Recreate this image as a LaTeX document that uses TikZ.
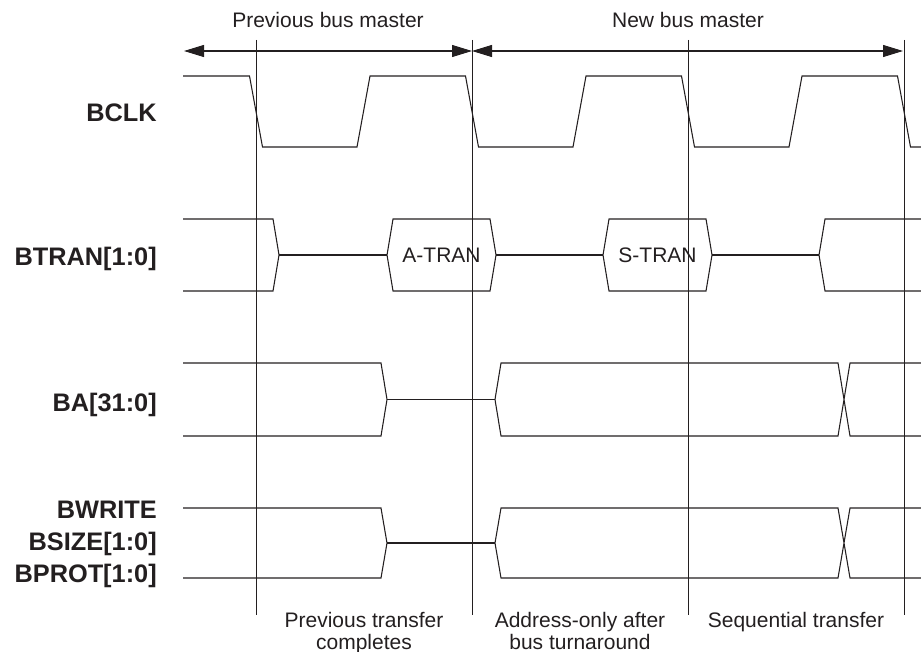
\documentclass[tikz,border=0pt]{standalone}
\usepackage{fontspec}
\setmainfont{Liberation Sans}
\usetikzlibrary{arrows.meta}
\definecolor{ink}{RGB}{35,31,32}
\tikzset{
  sig/.style={draw=ink, line width=0.8pt, line join=miter},
  guide/.style={draw=ink, line width=0.75pt},
  span/.style={draw=ink, line width=0.8pt, {Triangle[length=15pt,width=9pt]}-{Triangle[length=15pt,width=9pt]}},
  lbl/.style={anchor=base east, inner sep=0pt, text=ink, font=\fontsize{19}{24}\selectfont\bfseries},
  txt/.style={anchor=base, inner sep=0pt, text=ink, font=\fontsize{15.75}{16.5}\selectfont}
}
\begin{document}
\begin{tikzpicture}[x=0.75pt,y=-0.75pt]
\useasboundingbox (0,0) rectangle (921,652);

% guide lines
\foreach \x/\n in {256/g1,472/g2,688/g3,904/g4}{
  \coordinate (\n t) at (\x,40);
  \coordinate (\n b) at (\x,615);
  \draw[guide] (\n t) -- (\n b);
}

% bus master spans
\coordinate (s0) at (184,51);
\coordinate (s1) at (472,51);
\coordinate (s2) at (903,51);
\draw[span] (s0) -- (s1);
\draw[span] (s1) -- (s2);
\node[txt] (pbm) at (328,27.5) {Previous bus master};
\node[txt] (nbm) at (688,27.5) {New bus master};

% labels
\node[lbl] (lclk) at (157,121.5) {BCLK};
\node[lbl] (ltran) at (157,266) {BTRAN[1:0]};
\node[lbl] (lba) at (157,411) {BA[31:0]};
\node[lbl] (lw) at (157,518) {BWRITE};
\node[lbl] (ls) at (157,550) {BSIZE[1:0]};
\node[lbl] (lp) at (157,582) {BPROT[1:0]};

% BCLK
\draw[sig] (183,76) -- (249.5,76) -- (262.5,147) -- (357,147) -- (370,76)
  -- (465.5,76) -- (478.5,147) -- (573,147) -- (586,76)
  -- (681.5,76) -- (694.5,147) -- (789,147) -- (802,76)
  -- (897.5,76) -- (910.5,147) -- (921,147);

% BTRAN
\draw[sig] (183,219) -- (273,219) -- (279,255) -- (273,291) -- (183,291);
\draw[sig] (279,255) -- (387,255);
\draw[sig] (387,255) -- (393,219) -- (490,219) -- (496,255) -- (490,291) -- (393,291) -- cycle;
\node[txt] (atran) at (441.5,263) {A-TRAN};
\draw[sig] (496,255) -- (603,255);
\draw[sig] (603,255) -- (609,219) -- (706,219) -- (712,255) -- (706,291) -- (609,291) -- cycle;
\node[txt] (stran) at (657.5,263) {S-TRAN};
\draw[sig] (712,255) -- (819,255);
\draw[sig] (921,219) -- (825,219) -- (819,255) -- (825,291) -- (921,291);

% BA
\draw[sig] (183,363) -- (381,363) -- (387,399.5) -- (381,436) -- (183,436);
\draw[sig] (387,399.5) -- (495,399.5);
\draw[sig] (921,363) -- (850,363) -- (838,436) -- (501,436) -- (495,399.5) -- (501,363) -- (838,363) -- (850,436) -- (921,436);

% BWRITE / BSIZE / BPROT
\draw[sig] (183,508) -- (381,508) -- (387,543) -- (381,578) -- (183,578);
\draw[sig] (387,543) -- (495,543);
\draw[sig] (921,508) -- (850,508) -- (838,578) -- (501,578) -- (495,543) -- (501,508) -- (838,508) -- (850,578) -- (921,578);

% bottom captions
\node[txt] (c1a) at (364,627) {Previous transfer};
\node[txt] (c1b) at (364,649) {completes};
\node[txt] (c2a) at (580,627) {Address-only after};
\node[txt] (c2b) at (580,649) {bus turnaround};
\node[txt] (c3a) at (796,627) {Sequential transfer};
\end{tikzpicture}
\end{document}
